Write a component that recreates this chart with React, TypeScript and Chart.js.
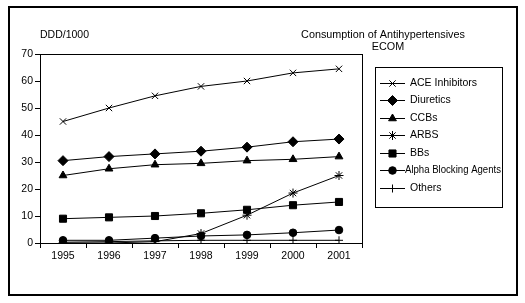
import React, { useEffect, useRef } from "react";
import { Chart, registerables } from "chart.js";
import { drawPoint } from "chart.js/helpers";

Chart.register(...registerables);

const years = ["1995", "1996", "1997", "1998", "1999", "2000", "2001"];
const aceInhibitors = [45, 50, 54.5, 58, 60, 63, 64.5];
const diuretics = [30.5, 32, 33, 34, 35.5, 37.5, 38.5];
const ccbs = [25, 27.5, 29, 29.5, 30.5, 31, 32];
const arbs = [0, 0, 0.5, 3.5, 10.3, 18.5, 25];
const bbs = [9, 9.5, 10, 11, 12.3, 14, 15.2];
const alphaBlockers = [1, 1, 1.8, 2.6, 3, 3.8, 4.8];
const others = [0.3, 0.5, 0.8, 1, 1, 1, 1];
const seriesNames = ["ACE Inhibitors", "Diuretics", "CCBs", "ARBS", "BBs", "Alpha Blocking Agents", "Others"];
const yTicks = [0, 10, 20, 30, 40, 50, 60, 70];

const FONT = "'Liberation Sans', Arial, sans-serif";

const styles = [
  { pointStyle: "crossRot", radius: 4.5 },
  { pointStyle: "rectRot", radius: 5 },
  { pointStyle: "triangle", radius: 4.5 },
  { pointStyle: "star", radius: 4.5 },
  { pointStyle: "rect", radius: 5 },
  { pointStyle: "circle", radius: 3.8 },
  { pointStyle: "cross", radius: 4 },
];

const decorPlugin = {
  id: "decor",
  afterDraw(chart: any) {
    const ctx = chart.ctx;
    const a = chart.chartArea;
    ctx.save();
    // outer frame
    ctx.strokeStyle = "#000";
    ctx.lineWidth = 2;
    ctx.strokeRect(9, 7, 508, 288);
    // plot box
    ctx.lineWidth = 1;
    ctx.strokeRect(Math.round(a.left) + 0.5, Math.round(a.top) + 0.5, Math.round(a.right - a.left), Math.round(a.bottom - a.top));
    // texts
    ctx.fillStyle = "#000";
    ctx.font = `10.5px ${FONT}`;
    ctx.textBaseline = "middle";
    ctx.textAlign = "left";
    ctx.fillText("DDD/1000", 40, 35);
    ctx.textAlign = "center";
    ctx.font = `10.8px ${FONT}`;
    ctx.fillText("Consumption of Antihypertensives", 383, 35);
    ctx.fillText("ECOM", 388, 47);
    // legend
    ctx.lineWidth = 1;
    ctx.strokeRect(375.5, 67.5, 127, 140);
    const ds = chart.data.datasets;
    ctx.font = `10.5px ${FONT}`;
    ctx.textAlign = "left";
    for (let i = 0; i < ds.length; i++) {
      const y = Math.round(83 + i * 17.45) + 0.5;
      ctx.strokeStyle = "#000";
      ctx.beginPath();
      ctx.moveTo(380, y);
      ctx.lineTo(405, y);
      ctx.stroke();
      ctx.fillStyle = "#000";
      drawPoint(ctx, { pointStyle: ds[i].pointStyle, radius: ds[i].pointRadius, borderWidth: 1, rotation: 0 }, 392.5, y);
      ctx.fillStyle = "#000";
      const x0 = i === 5 ? 405 : 410;
      ctx.fillText(ds[i].label, x0, y, 501 - x0);
    }
    ctx.restore();
  },
};

export default function App() {
  const ref = useRef<HTMLCanvasElement>(null);
  useEffect(() => {
    const seriesData = [aceInhibitors, diuretics, ccbs, arbs, bbs, alphaBlockers, others];
    const chart = new Chart(ref.current as HTMLCanvasElement, {
      type: "line",
      data: {
        labels: years,
        datasets: seriesData.map((d, i) => ({
          label: seriesNames[i],
          data: d,
          borderColor: "#000",
          backgroundColor: "#000",
          borderWidth: 1,
          pointStyle: styles[i].pointStyle as any,
          pointRadius: styles[i].radius,
          pointBorderColor: "#000",
          pointBackgroundColor: "#000",
          pointBorderWidth: 1,
          tension: 0,
          fill: false,
        })),
      },
      options: {
        animation: false,
        responsive: false,
        devicePixelRatio: 1,
        layout: { padding: { top: 54, right: 163, left: 0, bottom: 0 } },
        plugins: { legend: { display: false }, title: { display: false }, tooltip: { enabled: false } },
        scales: {
          x: {
            type: "category",
            offset: true,
            grid: { offset: true, drawOnChartArea: false, drawTicks: true, tickLength: 5, color: "#000" },
            border: { display: true, color: "#000", width: 1 },
            ticks: { color: "#000", font: { family: FONT, size: 10.5 }, padding: 2, maxRotation: 0 },
            afterFit: (s: any) => { s.height = 60; },
          },
          y: {
            min: 0,
            max: 70,
            afterBuildTicks: (s: any) => { s.ticks = yTicks.map((v) => ({ value: v })); },
            grid: { drawOnChartArea: false, drawTicks: true, tickLength: 5, color: "#000" },
            border: { display: true, color: "#000", width: 1 },
            ticks: { color: "#000", font: { family: FONT, size: 10.5 }, padding: 2 },
            afterFit: (s: any) => { s.width = 40; },
          },
        },
      },
      plugins: [decorPlugin],
    });
    return () => chart.destroy();
  }, []);
  return (
    <div style={{ position: "fixed", left: 0, top: 0, width: 525, height: 303, background: "#fff" }}>
      <canvas ref={ref} width={525} height={303} style={{ display: "block" }} />
    </div>
  );
}
